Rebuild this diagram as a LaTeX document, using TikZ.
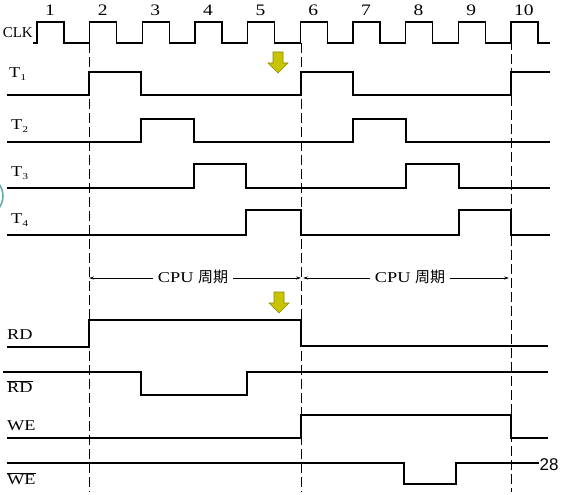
\documentclass[tikz,border=0pt]{standalone}
\usepackage{fontspec}
\setmainfont[FakeStretch=1.22]{Liberation Serif}
\newfontfamily\plainserif{Liberation Serif}
\newfontfamily\cjk{Noto Sans CJK SC}
\newfontfamily\numfont{Liberation Sans}
\usetikzlibrary{arrows.meta}
\definecolor{yarrowfill}{HTML}{C8C400}
\definecolor{yarrowedge}{HTML}{8C8A00}
\definecolor{tealarc}{HTML}{5FA8A6}
\begin{document}
\begin{tikzpicture}[x=1pt,y=-1pt,
  sig/.style={line width=1.4pt, line join=miter},
  vdash/.style={line width=0.9pt, dash pattern=on 10pt off 4pt},
  lbl/.style={font=\fontsize{15}{15}\selectfont, inner sep=0pt, anchor=west},
  num/.style={font=\fontsize{16}{16}\selectfont, inner sep=0pt},
  cyc/.style={font=\fontsize{15}{15}\selectfont, inner sep=1pt},
  cycarrow/.style={line width=0.8pt, -{Stealth[length=5pt,width=3pt]}},
  yarrow/.pic={\draw[fill=yarrowfill, draw=yarrowedge, line width=0.6pt]
     (-5,0) -- (5,0) -- (5,11) -- (10,11) -- (0,21) -- (-10,11) -- (-5,11) -- cycle;}
]
\useasboundingbox (0,0) rectangle (566,495);

% dashed period boundaries
\coordinate (d1t) at (89,43);  \coordinate (d1b) at (89,492);
\coordinate (d2t) at (301,43); \coordinate (d2b) at (301,492);
\coordinate (d3t) at (511,40); \coordinate (d3b) at (511,492);
\draw[vdash] (d1t) -- (d1b);
\draw[vdash] (d2t) -- (d2b);
\draw[vdash] (d3t) -- (d3b);

% clock
\node[lbl, anchor=east, font=\plainserif\fontsize{15}{15}\selectfont] (clk) at (33,33) {CLK};
\draw[sig] (33,43) foreach \k in {0,...,9} {
  -- ({37+52.65*\k},43) -- ({37+52.65*\k},22) -- ({64+52.65*\k},22) -- ({64+52.65*\k},43) } -- (550,43);
\foreach \k in {1,...,10} {
  \node[num] (n\k) at ({50+52.65*(\k-1)},10) {\k};
}

% T signals
\node[lbl] (t1) at (9,74) {T\kern0.3pt\raisebox{-3pt}{\fontsize{9}{9}\selectfont 1}};
\draw[sig] (7,95) -- (89,95) -- (89,72) -- (141,72) -- (141,95) -- (301,95) -- (301,72) -- (353,72) -- (353,95) -- (511,95) -- (511,72) -- (550,72);
\node[lbl] (t2) at (11,126) {T\kern0.3pt\raisebox{-3pt}{\fontsize{9}{9}\selectfont 2}};
\draw[sig] (7,142) -- (141,142) -- (141,119) -- (194,119) -- (194,142) -- (353,142) -- (353,119) -- (406,119) -- (406,142) -- (550,142);
\node[lbl] (t3) at (11,173) {T\kern0.3pt\raisebox{-3pt}{\fontsize{9}{9}\selectfont 3}};
\draw[sig] (7,188) -- (194,188) -- (194,164) -- (246,164) -- (246,188) -- (406,188) -- (406,164) -- (459,164) -- (459,188) -- (550,188);
\node[lbl] (t4) at (11,220) {T\kern0.3pt\raisebox{-3pt}{\fontsize{9}{9}\selectfont 4}};
\draw[sig] (7,235) -- (246,235) -- (246,210) -- (301,210) -- (301,235) -- (459,235) -- (459,210) -- (511,210) -- (511,235) -- (550,235);

% CPU cycles
\coordinate (c1) at (89,278);
\coordinate (c2) at (301,278);
\coordinate (c3) at (511,278);
\node[cyc] (cpu1) at (193,277) {CPU {\cjk 周期}};
\node[cyc] (cpu2) at (410,277) {CPU {\cjk 周期}};
\draw[cycarrow] (cpu1.west |- c1) ++(-4,0) -- (c1);
\draw[cycarrow] (cpu1.east |- c1) ++(4,0) -- (c2);
\draw[cycarrow] (cpu2.west |- c2) ++(-4,0) -- ([xshift=2pt]c2);
\draw[cycarrow] (cpu2.east |- c3) ++(4,0) -- ([xshift=-2pt]c3);

% yellow arrows
\pic at (278,52) {yarrow};
\pic at (279,292) {yarrow};

% memory signals
\node[lbl] (rd) at (7,335) {RD};
\draw[sig] (7,347) -- (89,347) -- (89,320) -- (301,320) -- (301,346) -- (548,346);
\node[lbl] (rdb) at (7,387) {$\overline{\hbox{RD}}$};
\draw[sig] (3,372) -- (141,372) -- (141,395) -- (247,395) -- (247,372) -- (548,372);
\node[lbl] (we) at (7,426) {WE};
\draw[sig] (7,438) -- (301,438) -- (301,415) -- (511,415) -- (511,438) -- (548,438);
\node[lbl] (web) at (7,479) {$\overline{\hbox{WE}}$};
\draw[sig] (7,463) -- (404,463) -- (404,484) -- (456,484) -- (456,463) -- (539,463);

% page number
\node[font=\numfont\fontsize{17}{17}\selectfont, inner sep=0pt] (pg) at (549,465) {28};

% teal arc at left edge
\draw[tealarc, line width=1.5pt] (-17,196) circle[radius=20];
\end{tikzpicture}
\end{document}
